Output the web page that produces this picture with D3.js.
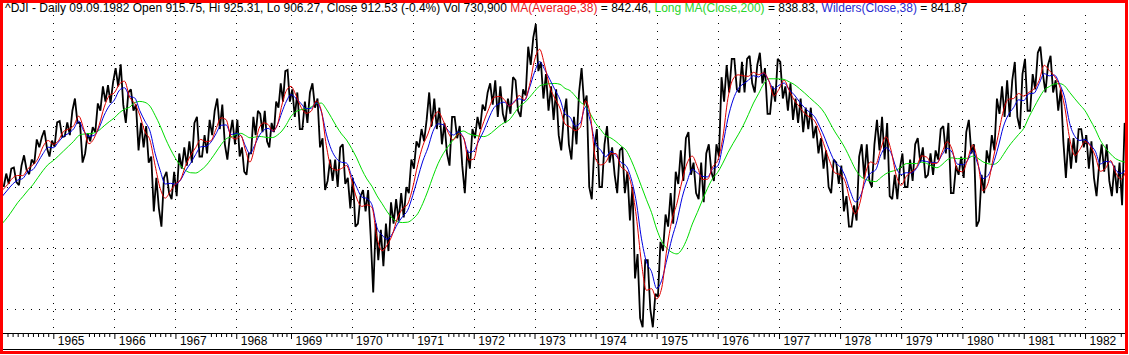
<!DOCTYPE html>
<html>
<head>
<meta charset="utf-8">
<script src="https://cdn.jsdelivr.net/npm/d3@7"></script>
<style>
  body { margin: 0; background: #fff; }
  svg { display: block; font-family: Arial, "Liberation Sans", sans-serif; }
</style>
</head>
<body>
<div id="chart"></div>
<script>
// ^DJI daily, Mar 1964 - 9 Sep 1982

// trading days per calendar year 1964..1982 (1968 short: Wednesdays closed)
const years = d3.range(1964, 1983);
const tradingDays = [252, 252, 252, 251, 226, 250, 252, 252, 251, 252, 252, 252, 253, 252, 252, 253, 253, 253, 253];

// months are counted from Jan 1964 (0 = Jan 1964)
const firstMonth = 2;      // March 1964
const startMonth = 2.114;  // first bar on the chart
const endMonth = 224.27;   // 9 Sep 1982

const gridPrices = [600, 700, 800, 900, 1000];

// monthly low / high of the daily bars
const monthLow = [
  800, 805, 808, 803, 828, 821, 838, 865, 864, 850,                 // 1964 Mar-Dec
  866, 882, 883, 885, 905, 840, 855, 875, 890, 925, 940, 938,       // 1965
  965, 935, 905, 925, 860, 865, 840, 760, 765, 735, 790, 780,       // 1966
  785, 830, 835, 840, 850, 850, 855, 885, 895, 870, 845, 870,       // 1967
  850, 825, 820, 855, 885, 890, 875, 865, 890, 930, 940, 940,       // 1968
  915, 895, 895, 905, 930, 865, 795, 810, 810, 800, 805, 765,       // 1969
  735, 740, 760, 720, 627, 680, 670, 695, 740, 745, 750, 790,       // 1970
  830, 865, 875, 900, 895, 870, 855, 835, 880, 835, 790, 830,       // 1971
  880, 895, 925, 935, 915, 920, 905, 920, 925, 915, 950, 1000,      // 1972
  990, 945, 925, 910, 885, 860, 870, 845, 870, 935, 800, 780,       // 1973
  800, 800, 840, 820, 790, 790, 745, 650, 585, 570, 600, 570,       // 1974
  620, 695, 735, 740, 805, 810, 820, 790, 780, 775, 825, 810,       // 1975
  850, 940, 955, 960, 955, 955, 970, 955, 970, 920, 920, 940,       // 1976
  945, 925, 910, 905, 890, 895, 880, 855, 830, 800, 790, 805,       // 1977
  760, 735, 735, 745, 815, 810, 800, 860, 845, 785, 780, 780,       // 1978
  800, 800, 810, 840, 815, 820, 820, 845, 855, 790, 790, 820,       // 1979
  815, 855, 735, 745, 790, 840, 860, 920, 915, 915, 915, 895,       // 1980
  925, 925, 960, 985, 955, 955, 925, 875, 815, 830, 840, 865,       // 1981
  830, 815, 785, 825, 810, 785, 790, 770, 895                       // 1982 Jan-Sep
];
const monthHigh = [
  822, 830, 832, 835, 852, 845, 878, 882, 893, 876,
  906, 908, 906, 925, 945, 905, 888, 898, 937, 965, 967, 972,
  995, 1001, 955, 960, 935, 905, 900, 850, 815, 815, 825, 825,
  855, 865, 875, 905, 915, 885, 910, 925, 945, 935, 885, 910,
  910, 865, 855, 915, 925, 920, 925, 905, 940, 970, 990, 992,
  960, 955, 940, 955, 970, 945, 880, 845, 845, 865, 870, 815,
  815, 785, 795, 795, 740, 730, 740, 775, 780, 790, 800, 845,
  875, 895, 910, 955, 945, 930, 905, 915, 915, 900, 860, 895,
  915, 935, 955, 970, 975, 965, 945, 980, 975, 960, 1030, 1045,
  1067, 1005, 985, 965, 960, 915, 945, 915, 955, 995, 950, 865,
  895, 870, 900, 865, 860, 865, 825, 800, 690, 680, 680, 625,
  710, 755, 790, 825, 860, 880, 890, 840, 840, 855, 870, 870,
  980, 1000, 1010, 1010, 1005, 1010, 1015, 1000, 1020, 995, 965, 1010,
  1005, 965, 970, 945, 945, 930, 930, 900, 880, 860, 845, 840,
  835, 785, 770, 850, 870, 870, 870, 910, 915, 905, 820, 830,
  855, 845, 870, 880, 865, 855, 860, 895, 900, 905, 835, 850,
  890, 910, 870, 820, 860, 885, 945, 965, 975, 975, 1005, 985,
  1010, 985, 1020, 1030, 1000, 1015, 975, 960, 880, 880, 895, 895,
  885, 875, 835, 870, 870, 835, 840, 905, 935
];

// indicator values at each month start (Mar 1964 .. Sep 1982), last one on 9 Sep 1982
const ma38 = [
  795, 803.8, 814.6, 818.9, 818.6, 829.9, 836.2, 846.8, 866.5, 876.3,
  870.0, 875.7, 891.0, 894.8, 900.3, 916.1, 894.8, 870.8, 879.8, 901.3, 930.9, 949.7,
  954.4, 968.8, 973.4, 947.1, 936.9, 917.7, 890.7, 876.8, 835.6, 797.9, 781.8, 792.9,
  804.8, 812.1, 835.1, 851.7, 864.7, 878.0, 874.2, 875.8, 894.9, 913.3, 910.4, 881.9,
  878.8, 884.5, 860.8, 840.9, 863.7, 896.1, 905.0, 902.3, 891.8, 901.6, 934.3, 958.3,
  965.0, 949.9, 930.7, 920.9, 924.4, 941.0, 925.3, 867.9, 832.0, 827.5, 830.3, 835.2,
  811.4, 781.8, 768.2, 770.7, 766.5, 716.8, 695.4, 705.0, 721.6, 748.8, 764.1, 771.7,
  798.4, 836.8, 867.6, 886.9, 911.7, 923.4, 909.0, 889.0, 877.3, 887.4, 881.0, 844.2,
  845.7, 881.7, 907.2, 928.8, 946.9, 948.4, 943.7, 932.9, 938.8, 950.0, 943.1, 966.4,
  1007.9, 1025.8, 999.1, 964.1, 945.4, 929.3, 903.2, 898.5, 892.4, 897.9, 941.4, 915.6,
  846.2, 836.2, 840.7, 854.3, 854.9, 832.9, 826.4, 804.2, 752.1, 676.9, 630.7, 633.3,
  616.6, 634.7, 698.1, 745.7, 773.5, 810.0, 839.4, 850.6, 833.1, 812.3, 812.8, 832.9,
  843.4, 881.3, 945.3, 976.9, 983.9, 982.3, 981.4, 988.0, 984.2, 987.2, 974.4, 949.3,
  960.4, 975.0, 958.5, 942.3, 931.8, 920.9, 914.8, 908.4, 889.9, 865.2, 841.3, 823.1,
  820.3, 808.7, 776.9, 755.9, 777.2, 822.3, 841.1, 837.3, 862.6, 882.3, 860.8, 820.3,
  802.8, 817.4, 824.8, 832.1, 851.0, 849.0, 838.6, 838.9, 856.5, 874.1, 861.0, 828.3,
  824.9, 844.7, 869.0, 841.2, 793.8, 805.9, 845.7, 884.5, 924.5, 943.9, 945.0, 953.3,
  949.0, 955.1, 960.7, 974.3, 999.6, 991.0, 981.7, 965.8, 932.1, 879.0, 851.7, 861.9,
  874.4, 867.6, 850.7, 825.8, 830.6, 843.4, 823.5, 812.8, 827.4,
  842.46
];
const wilders38 = [
  785, 795.0, 804.7, 811.3, 813.9, 825.1, 828.5, 841.1, 855.0, 865.2,
  864.3, 873.7, 882.9, 887.9, 895.3, 908.1, 891.7, 883.0, 884.5, 897.0, 917.7, 933.1,
  942.6, 958.7, 962.7, 948.6, 946.0, 925.1, 907.9, 891.6, 855.4, 827.3, 804.9, 806.0,
  804.5, 811.2, 826.8, 839.0, 853.4, 865.9, 866.6, 873.5, 887.1, 901.2, 901.8, 886.0,
  887.7, 884.4, 867.5, 854.6, 867.7, 883.8, 893.0, 896.0, 891.3, 901.5, 922.4, 940.8,
  951.3, 945.3, 936.6, 928.4, 929.1, 938.1, 923.9, 886.7, 861.2, 846.7, 840.6, 839.2,
  818.0, 799.6, 783.7, 781.0, 770.9, 733.3, 721.2, 714.3, 723.3, 739.1, 751.3, 761.5,
  785.6, 814.4, 842.6, 864.1, 891.3, 903.6, 902.1, 892.6, 885.1, 890.4, 880.5, 856.7,
  859.2, 875.6, 892.6, 913.0, 930.0, 936.5, 939.1, 933.1, 940.4, 944.5, 941.5, 962.4,
  988.3, 1005.6, 992.5, 976.4, 959.6, 943.7, 919.5, 914.3, 899.6, 905.2, 931.0, 907.0,
  870.7, 860.7, 849.7, 858.4, 851.6, 840.2, 834.7, 813.4, 775.4, 716.1, 677.0, 661.1,
  633.7, 647.2, 680.7, 715.9, 744.6, 782.4, 809.4, 829.1, 823.1, 817.5, 816.5, 829.8,
  834.2, 869.0, 912.4, 942.6, 960.9, 969.1, 974.9, 982.5, 980.3, 986.7, 974.1, 960.5,
  966.8, 970.4, 959.5, 951.1, 939.9, 930.2, 922.6, 915.1, 898.9, 880.1, 858.6, 840.9,
  833.0, 817.7, 792.9, 775.6, 785.0, 809.8, 822.8, 828.1, 852.6, 864.4, 856.1, 832.0,
  820.4, 823.4, 823.0, 830.3, 843.1, 841.8, 839.9, 839.9, 852.8, 863.4, 856.5, 837.6,
  836.5, 843.4, 860.2, 837.5, 813.9, 818.7, 837.6, 865.5, 898.6, 918.6, 930.0, 942.9,
  941.7, 952.8, 953.8, 969.4, 985.8, 982.2, 983.5, 969.1, 946.9, 904.1, 883.0, 876.3,
  877.9, 869.1, 858.8, 837.8, 841.9, 841.1, 827.7, 822.3, 828.8,
  841.87
];
const ma200 = [
  740.5, 750.4, 762.2, 774.3, 784.1, 794.3, 803.8, 815.7, 827.2, 837.0,
  843.3, 850.9, 858.9, 866.9, 874.9, 884.2, 886.8, 887.4, 888.5, 893.0, 900.4, 907.1,
  913.4, 921.8, 927.4, 930.8, 938.4, 940.3, 938.8, 932.5, 917.6, 900.3, 880.1, 862.5,
  847.1, 834.9, 827.2, 823.4, 822.9, 827.5, 834.7, 845.3, 857.2, 869.3, 878.9, 882.2,
  886.3, 888.0, 884.6, 880.7, 881.7, 882.9, 882.1, 880.9, 881.1, 885.0, 891.8, 902.6,
  915.7, 923.7, 926.8, 928.2, 931.1, 937.1, 937.6, 927.6, 913.9, 899.5, 887.0, 877.1,
  863.3, 847.6, 828.9, 813.2, 801.2, 785.5, 772.6, 759.4, 748.9, 743.3, 741.7, 742.3,
  747.3, 756.3, 773.1, 793.9, 817.4, 838.4, 854.5, 866.7, 877.6, 888.3, 891.7, 887.4,
  884.9, 883.6, 882.6, 885.8, 892.4, 899.5, 905.4, 909.9, 920.8, 932.0, 938.0, 946.8,
  956.8, 965.5, 968.3, 969.4, 969.8, 968.3, 961.7, 957.9, 949.1, 939.2, 932.8, 919.5,
  904.5, 894.1, 884.1, 880.4, 874.6, 867.4, 860.1, 843.9, 823.4, 801.2, 779.1, 757.9,
  731.1, 710.9, 699.5, 692.8, 690.3, 698.4, 715.7, 739.2, 758.4, 778.6, 797.9, 813.9,
  824.1, 839.1, 856.2, 871.3, 885.5, 900.8, 918.7, 937.6, 953.0, 968.9, 977.4, 977.4,
  977.2, 976.3, 972.4, 968.0, 961.4, 954.3, 946.6, 939.1, 931.4, 920.5, 905.3, 890.3,
  877.6, 863.4, 846.4, 829.3, 817.6, 812.5, 809.7, 808.9, 815.4, 821.7, 825.4, 827.6,
  832.8, 838.3, 838.6, 838.4, 840.8, 838.7, 834.0, 831.6, 836.6, 844.5, 847.8, 846.4,
  846.8, 847.1, 850.5, 847.2, 841.3, 838.2, 837.0, 841.2, 853.0, 865.8, 876.4, 886.2,
  896.2, 914.3, 930.3, 945.7, 958.8, 964.6, 968.9, 969.5, 965.8, 955.0, 944.6, 934.7,
  925.0, 910.1, 894.6, 876.6, 863.9, 854.1, 846.4, 842.6, 840.1,
  838.83
];

const titleParts = [
  { text: '^DJI - Daily 09.09.1982 Open 915.75, Hi 925.31, Lo 906.27, Close 912.53 (-0.4%) Vol 730,900 ', color: '#000' },
  { text: 'MA(Average,38)', color: '#e8141c' },
  { text: ' = 842.46, ', color: '#000' },
  { text: 'Long MA(Close,200)', color: '#2ad42a' },
  { text: ' = 838.83, ', color: '#000' },
  { text: 'Wilders(Close,38)', color: '#2a2ad0' },
  { text: ' = 841.87', color: '#000' }
];

const W = 1129, H = 355;
const plot = { left: 3, right: 1125, top: 3, bottom: 333 };

const svg = d3.select('#chart').append('svg')
    .attr('width', W)
    .attr('height', H);

svg.append('rect').attr('width', W).attr('height', H).attr('fill', '#fff');

// trading-day position of a month value
const yearStart = [0];
tradingDays.forEach((d, i) => yearStart.push(yearStart[i] + d));
function dayOf(t) {
    const yi = Math.min(Math.floor(t / 12), tradingDays.length - 1);
    return yearStart[yi] + (t - yi * 12) / 12 * tradingDays[yi];
}

const xScale = d3.scaleLinear()
    .domain([dayOf(startMonth), dayOf(endMonth)])
    .range([3, 1127.3]);

const yScale = d3.scaleLinear()
    .domain([600, 1000])
    .range([309, 65]);

const xm = t => xScale(dayOf(t));

// Grid (dotted)
const grid = svg.append('g').attr('class', 'grid')
    .attr('stroke', '#000')
    .attr('stroke-width', 1)
    .attr('stroke-dasharray', '1,7');

grid.selectAll('line.h')
    .data(gridPrices)
    .join('line')
    .attr('class', 'h')
    .attr('x1', plot.left + 4).attr('x2', plot.right)
    .attr('y1', d => Math.round(yScale(d)) + 0.5)
    .attr('y2', d => Math.round(yScale(d)) + 0.5);

const yearTicks = years.slice(1).map(y => (y - 1964) * 12);
grid.selectAll('line.v')
    .data(yearTicks)
    .join('line')
    .attr('class', 'v')
    .attr('x1', d => Math.round(xm(d)) + 0.5)
    .attr('x2', d => Math.round(xm(d)) + 0.5)
    .attr('y1', 15).attr('y2', plot.bottom);

// Clip for the series
svg.append('clipPath').attr('id', 'plot-clip')
    .append('rect')
    .attr('x', plot.left).attr('y', plot.top)
    .attr('width', plot.right - plot.left).attr('height', plot.bottom - plot.top);

const series = svg.append('g').attr('clip-path', 'url(#plot-clip)');

// Price: zig-zag through each month's low and high
const pricePts = [];
monthLow.forEach((lo, i) => {
    const t0 = firstMonth + i;
    const len = Math.min(1, endMonth - t0);
    const hi = monthHigh[i];
    const mid = (lo + hi) / 2;
    const nextMid = i < monthLow.length - 1 ? (monthLow[i + 1] + monthHigh[i + 1]) / 2 : mid + 1;
    const up = nextMid >= mid;
    pricePts.push({ t: t0 + 0.25 * len, v: up ? lo : hi });
    pricePts.push({ t: t0 + 0.75 * len, v: up ? hi : lo });
});

const line = d3.line()
    .x(d => xm(d.t))
    .y(d => yScale(d.v));

series.append('path')
    .datum(pricePts)
    .attr('fill', 'none')
    .attr('stroke', '#000')
    .attr('stroke-width', 1.8)
    .attr('stroke-miterlimit', 2)
    .attr('d', line);

// Indicators
const monthT = i => (i < ma38.length - 1 ? firstMonth + i : endMonth);
const smooth = d3.line()
    .x(d => xm(d.t))
    .y(d => yScale(d.v))
    .curve(d3.curveMonotoneX);

[
    { values: ma200, color: '#00dc00' },
    { values: wilders38, color: '#0000e0' },
    { values: ma38, color: '#e00000' }
].forEach(s => {
    series.append('path')
        .datum(s.values.map((v, i) => ({ t: monthT(i), v })))
        .attr('fill', 'none')
        .attr('stroke', s.color)
        .attr('stroke-width', 1)
        .attr('d', smooth);
});

// X axis: month ticks, year ticks and labels
const labelW = 33;
const monthTicks = d3.range(Math.ceil(startMonth), Math.floor(endMonth) + 1)
    .filter(t => t % 12 !== 0)
    .filter(t => {
        const yt = Math.floor(t / 12) * 12;
        if (yt === 0) return true;
        return xm(t) - xm(yt) > labelW;
    });

const monthAxis = d3.axisBottom(xScale)
    .tickValues(monthTicks.map(dayOf))
    .tickSize(4)
    .tickSizeOuter(0)
    .tickFormat('');

const axisG = svg.append('g')
    .attr('transform', `translate(0,${plot.bottom})`)
    .call(monthAxis);
axisG.select('.domain').attr('d', `M${plot.left},0.5H${plot.right}`).attr('stroke', '#000');
axisG.selectAll('.tick line').attr('stroke', '#000');

const yearAxis = d3.axisBottom(xScale)
    .tickValues(yearTicks.map(dayOf))
    .tickSize(6)
    .tickSizeOuter(0)
    .tickFormat((d, i) => years[i + 1]);

const yearG = svg.append('g')
    .attr('transform', `translate(0,${plot.bottom})`)
    .call(yearAxis);
yearG.select('.domain').remove();
yearG.selectAll('.tick line').attr('stroke', '#000');
yearG.selectAll('.tick text')
    .attr('x', 4)
    .attr('y', 12)
    .attr('dy', 0)
    .attr('text-anchor', 'start')
    .attr('fill', '#000')
    .style('font-size', '12px')
    .style('font-family', 'Arial, "Liberation Sans", sans-serif');

// bottom rule
svg.append('line')
    .attr('x1', plot.left).attr('x2', plot.right)
    .attr('y1', 349.5).attr('y2', 349.5)
    .attr('stroke', '#000');

// Title
const title = svg.append('text')
    .attr('x', 5)
    .attr('y', 12)
    .style('font-size', '12px');
titleParts.forEach(p => {
    title.append('tspan').attr('fill', p.color).text(p.text);
});

// red frame
svg.append('rect')
    .attr('x', 1.5).attr('y', 1.5)
    .attr('width', 1125).attr('height', 351)
    .attr('fill', 'none')
    .attr('stroke', '#ff0000')
    .attr('stroke-width', 3);
</script>
</body>
</html>
